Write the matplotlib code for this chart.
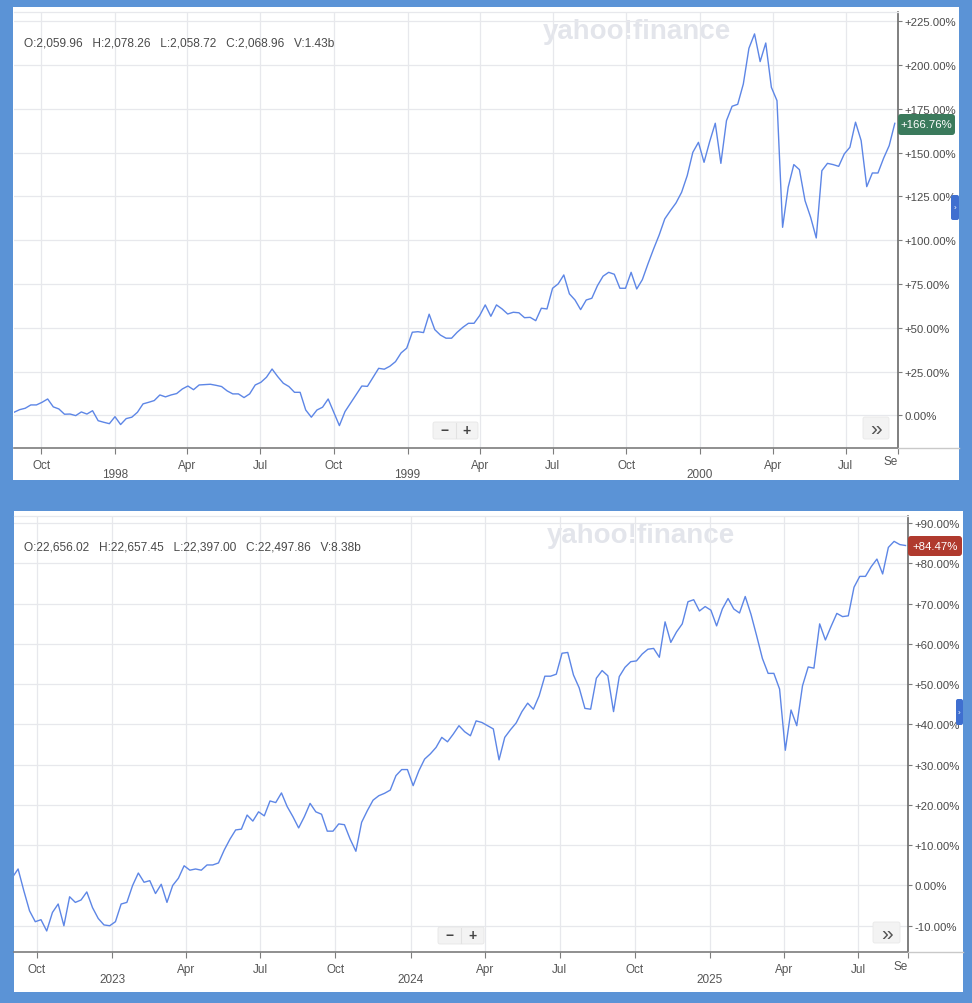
import matplotlib
matplotlib.use('Agg')
import matplotlib.pyplot as plt
from matplotlib.patches import Rectangle, FancyBboxPatch
from matplotlib.lines import Line2D
import pandas as pd

plt.rcParams['font.family'] = ['Liberation Sans', 'DejaVu Sans']

W, H = 972, 1004

# ---------------- data ----------------
top_start = '1997-08-28'
top_values = [1.8, 3.3, 4.1, 6.0, 6.0, 7.5, 9.4, 4.9, 3.7, 0.7, 0.8, -0.1, 2.0, 0.8, 2.7,
              -3.0, -3.9, -4.7, -0.7, -5.2, -1.8, -1.0, 1.8, 6.6, 7.5, 8.5, 11.7, 10.6, 11.7,
              12.5, 15.1, 16.8, 14.7, 17.4, 17.6, 17.8, 17.2, 16.5, 14.0, 12.3, 12.3, 10.2,
              12.3, 17.4, 18.9, 21.8, 26.5, 22.2, 18.4, 16.5, 13.2, 13.2, 3.1, -1.0, 3.1, 4.7,
              9.4, 1.8, -5.8, 2.2, 7.1, 11.9, 16.8, 16.6, 21.8, 26.9, 26.4, 28.1, 30.7, 35.7,
              38.4, 47.5, 47.8, 47.3, 57.8, 49.0, 45.9, 44.1, 44.1,
              47.5, 50.3, 52.6, 52.6, 57.0, 63.1, 56.6, 63.1, 60.8, 57.9, 58.9, 58.6, 55.8,
              56.0, 54.1, 61.2, 60.8, 72.6, 75.1, 80.2, 69.4, 65.9, 60.4, 65.9, 66.9, 74.1,
              79.5, 81.7, 80.6, 72.6, 72.6, 81.7, 72.2, 77.5, 86.5, 95.0, 103.0, 112.2, 116.9,
              121.3, 127.4, 136.9, 150.2, 155.9, 144.5, 156.3, 166.8, 143.9, 168.3, 176.5,
              177.6, 189.2, 209.6, 217.8, 202.0, 212.6, 187.3, 179.7, 107.4, 130.3, 143.2,
              140.3, 122.6, 113.1, 101.3, 139.7, 143.9, 143.2, 142.2, 149.3, 153.1, 167.4,
              156.9, 130.6, 138.4, 138.4, 146.8, 154.0, 166.76]

bot_start = '2022-09-01'
bot_values = [2.0, 4.1, -1.3, -6.3, -9.0, -8.5, -11.3, -6.7, -4.6, -10.0, -2.8, -4.2, -3.6,
              -1.6, -5.5, -8.2, -9.8, -10.0, -9.0, -4.6, -4.2, 0.0, 3.1, 0.8, 1.2, -2.0, 0.3,
              -4.2, 0.0, 1.8, 4.9, 3.8, 4.1, 3.8, 5.1, 5.1, 5.6, 8.8, 11.5, 13.8, 14.0, 17.5,
              16.0, 18.3, 17.3, 21.0, 20.6, 23.0, 19.6, 17.1, 14.3, 17.1, 20.4, 18.3, 17.7,
              13.5, 13.5, 15.3, 15.1, 11.5, 8.5, 15.7, 18.6, 21.2, 22.3, 22.9, 23.7, 27.3,
              28.8, 28.8, 24.8, 28.5, 31.4, 32.7, 34.3, 36.8, 35.7,
              37.6, 39.7, 38.2, 37.2, 40.9, 40.5, 39.7, 38.9, 31.2, 36.8, 38.7, 40.4, 43.2,
              45.3, 43.8, 47.1, 52.0, 52.0, 52.5, 57.7, 57.9, 52.3, 49.1, 44.0, 43.8, 51.5,
              53.4, 52.1, 43.2, 51.9, 54.2, 55.6, 55.8, 57.5, 58.7, 58.9, 56.7, 65.5, 60.4,
              63.0, 65.0, 70.5, 71.0, 68.2, 69.3, 68.4, 64.5, 68.7, 71.3, 68.7, 67.7, 71.8,
              67.4, 62.0, 56.4, 52.7, 52.7, 48.8, 33.6, 43.6, 39.7, 49.6, 54.3, 54.0, 65.0,
              61.0, 64.4, 67.6, 66.8, 67.0, 74.1, 76.8, 76.8, 79.2, 81.1, 77.4, 84.0, 85.5,
              84.7, 84.47]

top_header = "O:2,059.96   H:2,078.26   L:2,058.72   C:2,068.96   V:1.43b"
bot_header = "O:22,656.02   H:22,657.45   L:22,397.00   C:22,497.86   V:8.38b"

top_yticks = [0, 25, 50, 75, 100, 125, 150, 175, 200, 225]
bot_yticks = [-10, 0, 10, 20, 30, 40, 50, 60, 70, 80, 90]

top_month_ticks = ['1997-10-01', '1998-04-01', '1998-07-01', '1998-10-01', '1999-04-01',
                   '1999-07-01', '1999-10-01', '2000-04-01', '2000-07-01']
top_month_labels = ['Oct', 'Apr', 'Jul', 'Oct', 'Apr', 'Jul', 'Oct', 'Apr', 'Jul']
top_year_ticks = ['1998-01-01', '1999-01-01', '2000-01-01']
top_year_labels = ['1998', '1999', '2000']

bot_month_ticks = ['2022-10-01', '2023-04-01', '2023-07-01', '2023-10-01', '2024-04-01',
                   '2024-07-01', '2024-10-01', '2025-04-01', '2025-07-01']
bot_month_labels = ['Oct', 'Apr', 'Jul', 'Oct', 'Apr', 'Jul', 'Oct', 'Apr', 'Jul']
bot_year_ticks = ['2023-01-01', '2024-01-01', '2025-01-01']
bot_year_labels = ['2023', '2024', '2025']

top_last_label = '+166.76%'
bot_last_label = '+84.47%'

# ---------------- style ----------------
BG = '#5b93d6'
LINE = '#5d86e6'
GRID = '#e7e8ec'
AXC = '#7d7d7d'
TXT = '#4a4a4a'

fig = plt.figure(figsize=(W / 100, H / 100), dpi=100, facecolor=BG)


def fx(x):
    return x / W


def fy(y):
    return 1 - y / H


def frect(x0, y0, x1, y1, **kw):
    r = Rectangle((fx(x0), fy(y1)), (x1 - x0) / W, (y1 - y0) / H,
                  transform=fig.transFigure, **kw)
    fig.add_artist(r)
    return r


def fround(x0, y0, x1, y1, rs=0.004, **kw):
    r = FancyBboxPatch((fx(x0), fy(y1)), (x1 - x0) / W, (y1 - y0) / H,
                       boxstyle=f'round,pad=0,rounding_size={rs}',
                       transform=fig.transFigure, **kw)
    fig.add_artist(r)
    return r


def fline(x0, y0, x1, y1, **kw):
    fig.add_artist(Line2D([fx(x0), fx(x1)], [fy(y0), fy(y1)], transform=fig.transFigure, **kw))


def yfmt(v):
    if v > 0:
        return f'+{v:.2f}%'
    return f'{v:.2f}%'


def panel(box, plot, ylim, xlim, dates, values, yticks, mticks, mlabels, yrticks, yrlabels,
          header, header_y, wm_center, badge, badge_color, badge_label, tab, zoom_btn, ff_btn):
    px0, py0, px1, py1 = box
    frect(px0, py0, px1, py1, facecolor='white', edgecolor='none', zorder=0)
    x0, y0, x1, y1 = plot
    ax = fig.add_axes([fx(x0), fy(y1), (x1 - x0) / W, (y1 - y0) / H])
    ax.set_facecolor('white')
    ax.plot(dates, values, color=LINE, lw=1.0, zorder=3)
    ax.set_xlim(pd.Timestamp(xlim[0]), pd.Timestamp(xlim[1]))
    ax.set_ylim(*ylim)

    # y axis on right
    ax.yaxis.tick_right()
    ax.set_yticks(yticks)
    ax.set_yticklabels([yfmt(v) for v in yticks])
    ax.tick_params(axis='y', length=3, width=0.8, color=AXC, pad=2, labelsize=8.2,
                   labelcolor=TXT)
    for v in yticks:
        ax.axhline(v, color=GRID, lw=0.9, zorder=1)

    # x axis ticks
    all_ticks = [pd.Timestamp(t) for t in mticks + yrticks] + [pd.Timestamp(xlim[1])]
    all_labels = mlabels + [''] * len(yrticks) + ['']
    ax.set_xticks(all_ticks)
    ax.set_xticklabels(all_labels)
    ax.tick_params(axis='x', length=4, width=0.8, color=AXC, pad=4, labelsize=8.5,
                   labelcolor='#555555')
    for t in mticks + yrticks:
        ax.axvline(pd.Timestamp(t), color=GRID, lw=0.9, zorder=1)
    ax_h = y1 - y0
    for t, lab in zip(yrticks, yrlabels):
        ax.text(pd.Timestamp(t), -27 / ax_h, lab, transform=ax.get_xaxis_transform(),
                ha='center', va='center', fontsize=8.5, color='#555555')
    ax.text(1.0, -13.5 / ax_h, 'Se', transform=ax.transAxes, ha='right', va='center',
            fontsize=8.5, color='#555555')

    for s in ['left']:
        ax.spines[s].set_visible(False)
    ax.spines['top'].set_color(GRID)
    ax.spines['top'].set_linewidth(0.9)
    ax.spines['bottom'].set_color(AXC)
    ax.spines['bottom'].set_linewidth(1.2)
    ax.spines['right'].set_color('#6a6a6a')
    ax.spines['right'].set_linewidth(1.2)

    # axis line continues to panel edge
    fline(x1, y1, px1, y1, color='#c9c9c9', lw=1.0, zorder=2)

    # header
    fig.text(fx(24), fy(header_y), header, ha='left', va='center', fontsize=8.6, color=TXT)
    # watermark
    ax.text(fx(wm_center[0]), fy(wm_center[1]), 'yahoo!finance', transform=fig.transFigure,
            ha='center', va='center', fontsize=20, fontweight='bold', color='#e3e5eb', zorder=0)

    # badge with last value
    bx0, by0, bx1, by1 = badge
    fround(bx0, by0, bx1, by1, rs=0.003, facecolor=badge_color, edgecolor='none', zorder=5)
    fig.text(fx((bx0 + bx1) / 2), fy((by0 + by1) / 2), badge_label, ha='center', va='center',
             fontsize=8.2, color='white', zorder=6)

    # side tab
    tx0, ty0, tx1, ty1 = tab
    fround(tx0, ty0, tx1, ty1, rs=0.002, facecolor='#3f6fd0', edgecolor='none', zorder=5)
    fig.text(fx((tx0 + tx1) / 2), fy((ty0 + ty1) / 2), '›', ha='center', va='center',
             fontsize=6, color='white', zorder=6)

    # zoom buttons
    zx0, zy0, zx1, zy1 = zoom_btn
    fround(zx0, zy0, zx1, zy1, rs=0.002, facecolor='#f3f3f3', edgecolor='#e6e6e6', lw=0.6,
           zorder=5)
    zm = (zx0 + zx1) / 2
    fline(zm, zy0 + 1, zm, zy1 - 1, color='#e2e2e2', lw=0.8, zorder=6)
    fig.text(fx((zx0 + zm) / 2), fy((zy0 + zy1) / 2), '−', ha='center', va='center',
             fontsize=10, fontweight='bold', color='#444444', zorder=6)
    fig.text(fx((zm + zx1) / 2), fy((zy0 + zy1) / 2), '+', ha='center', va='center',
             fontsize=10, fontweight='bold', color='#444444', zorder=6)

    # fast-forward button
    fx0_, fy0_, fx1_, fy1_ = ff_btn
    fround(fx0_, fy0_, fx1_, fy1_, rs=0.002, facecolor='#f3f3f3', edgecolor='#e8e8e8', lw=0.6,
           zorder=5)
    fig.text(fx((fx0_ + fx1_) / 2), fy((fy0_ + fy1_) / 2 + 1), '»', ha='center', va='center',
             fontsize=15, color='#555555', zorder=6)
    return ax


top_dates = pd.date_range(top_start, periods=len(top_values), freq='7D')
bot_dates = pd.date_range(bot_start, periods=len(bot_values), freq='7D')

panel(box=(13, 8, 959, 481), plot=(14, 13, 898, 448.5), ylim=(-18.3, 230.3),
      xlim=('1997-08-28', '2000-09-04'), dates=top_dates, values=top_values,
      yticks=top_yticks, mticks=top_month_ticks, mlabels=top_month_labels,
      yrticks=top_year_ticks, yrlabels=top_year_labels,
      header=top_header, header_y=43, wm_center=(637, 32),
      badge=(898, 115, 955, 136), badge_color='#3b7a5c', badge_label=top_last_label,
      tab=(951, 196, 959, 221), zoom_btn=(433, 423, 478, 440), ff_btn=(863, 418, 889, 440))

panel(box=(14, 512, 963, 993), plot=(14, 517, 908, 953.3), ylim=(-16.6, 91.8),
      xlim=('2022-09-03', '2025-08-31'), dates=bot_dates, values=bot_values,
      yticks=bot_yticks, mticks=bot_month_ticks, mlabels=bot_month_labels,
      yrticks=bot_year_ticks, yrlabels=bot_year_labels,
      header=bot_header, header_y=548, wm_center=(641, 536),
      badge=(908, 537, 962, 557), badge_color='#b03a2e', badge_label=bot_last_label,
      tab=(956, 700, 963, 726), zoom_btn=(438, 928, 484, 945), ff_btn=(873, 923, 900, 944))

fig.savefig('out.png', dpi=100, facecolor=BG)
